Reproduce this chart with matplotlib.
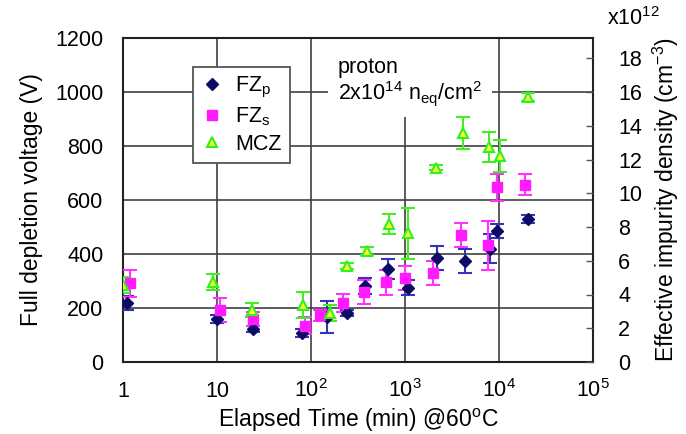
import matplotlib
matplotlib.use("Agg")
import matplotlib.pyplot as plt
from matplotlib.patches import Rectangle
from matplotlib.lines import Line2D

plt.rcParams['font.family'] = ['Liberation Sans', 'DejaVu Sans']
plt.rcParams['mathtext.fontset'] = 'custom'
plt.rcParams['mathtext.rm'] = 'Liberation Sans'
plt.rcParams['mathtext.it'] = 'Liberation Sans:italic'
plt.rcParams['mathtext.bf'] = 'Liberation Sans:bold'

# ---- data ----
fzp_t = [1.1, 10, 24, 80, 147, 240, 375, 660, 1070, 2180, 4370, 8000, 9600, 20400]
fzp_v = [218, 159, 122, 108, 166, 181, 282, 343, 275, 384, 375, 420, 485, 528]
fzp_err = [25, 15, 10, 15, 60, 12, 30, 37, 27, 45, 45, 55, 25, 15]

fzs_t = [1.19, 10.8, 24, 86, 125, 219, 365, 630, 1000, 2000, 3970, 7600, 9500, 19000]
fzs_v = [292, 192, 159, 135, 173, 218, 258, 295, 312, 329, 470, 432, 647, 657]
fzs_err = [50, 45, 25, 30, 20, 33, 45, 45, 45, 45, 45, 90, 50, 40]

mcz_t = [1.0, 9, 23.5, 83, 160, 240, 395, 680, 1070, 2140, 4150, 7900, 10200, 20400]
mcz_v = [285, 295, 192, 212, 181, 356, 412, 512, 476, 720, 849, 797, 764, 982]
mcz_err = [30, 30, 25, 48, 30, 10, 15, 37, 95, 10, 60, 55, 60, 15]

xticks = [1, 10, 100, 1000, 10000, 100000]
xticklabels = ['1', '10', r'$\mathregular{10^2}$', r'$\mathregular{10^3}$',
               r'$\mathregular{10^4}$', r'$\mathregular{10^5}$']
yticks_left = [0, 200, 400, 600, 800, 1000, 1200]
yticks_right = [0, 2, 4, 6, 8, 10, 12, 14, 16, 18]

TICK_FS = 15.5
LABEL_FS = 16.5

fig = plt.figure(figsize=(6.86, 4.34), dpi=100)
ax = fig.add_axes([123/686, 1-362/434, 470/686, 324/434])

ax.set_xscale('log')
ax.set_xlim(1, 1e5)
ax.set_ylim(0, 1200)
ax.set_xticks(xticks)
ax.set_xticklabels(xticklabels)
ax.minorticks_off()
ax.set_yticks(yticks_left)
ax.tick_params(axis='both', labelsize=TICK_FS, length=0)
ax.tick_params(axis='y', pad=14)
ax.tick_params(axis='x', pad=25)
for lbl in ax.get_xticklabels():
    lbl.set_verticalalignment('baseline')

ax.set_axisbelow(True)
ax.grid(True, which='major', color='#404040', linewidth=1.2)
for s in ax.spines.values():
    s.set_linewidth(1.5)
    s.set_color('#222222')

# white box behind annotation
ax.add_patch(Rectangle((0.436, 0.756), 0.35, 0.244, transform=ax.transAxes,
                       facecolor='white', edgecolor='none', zorder=1))

ax.errorbar(fzp_t, fzp_v, yerr=fzp_err, fmt='D', color='#0c0c66', ms=6.5,
            ecolor='#3333bb', elinewidth=1.5, capsize=5, capthick=1.5, zorder=4)
ax.errorbar(fzs_t, fzs_v, yerr=fzs_err, fmt='s', color='#ff1aff', ms=7,
            ecolor='#ff33ff', elinewidth=1.5, capsize=5, capthick=1.5, zorder=4)
ax.errorbar(mcz_t, mcz_v, yerr=mcz_err, fmt='^', mfc='#f5ff30', mec='#33ee22',
            mew=1.5, ms=7.5, ecolor='#44ee22', elinewidth=1.5, capsize=5,
            capthick=1.5, zorder=4)

ax.text(0.457, 0.91, 'proton', transform=ax.transAxes, fontsize=TICK_FS,
        va='center', ha='left', zorder=2)
ax.text(0.457, 0.83, r'2x10$^\mathregular{14}$ n$_\mathregular{eq}$/cm$^\mathregular{2}$',
        transform=ax.transAxes, fontsize=TICK_FS, va='center', ha='left', zorder=2)

handles = [
    Line2D([], [], marker='D', color='#0c0c66', ls='none', ms=6),
    Line2D([], [], marker='s', color='#ff1aff', ls='none', ms=7),
    Line2D([], [], marker='^', mfc='#f5ff30', mec='#33ee22', mew=1.5, ls='none', ms=7),
]
leg = ax.legend(handles, [r'FZ$_\mathregular{p}$', r'FZ$_\mathregular{s}$', 'MCZ'],
                loc='upper left', bbox_to_anchor=(0.149, 0.912), fontsize=TICK_FS,
                frameon=True, fancybox=False, framealpha=1, edgecolor='#555555',
                handlelength=1.0, handletextpad=0.55, labelspacing=0.25,
                borderpad=0.4, borderaxespad=0)
leg.get_frame().set_linewidth(1.3)
leg.set_zorder(5)

ax.set_ylabel('Full depletion voltage (V)', fontsize=LABEL_FS, labelpad=9)
ax.set_xlabel(r'Elapsed Time (min) @60$^\mathregular{o}$C', fontsize=LABEL_FS)
ax.xaxis.set_label_coords(0.5, -0.137)

ax2 = ax.twinx()
ax2.set_ylim(0, 19.2)
ax2.set_yticks(yticks_right)
ax2.tick_params(axis='y', direction='in', length=5, width=1, labelsize=TICK_FS, pad=18,
                color='#555555')
for s in ax2.spines.values():
    s.set_visible(False)
ax2.set_ylabel(r'Effective impurity density (cm$^\mathregular{-3}$)', fontsize=LABEL_FS,
               labelpad=6)
fig.text(607/686, 1-19/434, r'x10$^\mathregular{12}$', fontsize=TICK_FS,
         ha='left', va='center')

fig.savefig('out.png', dpi=100)
